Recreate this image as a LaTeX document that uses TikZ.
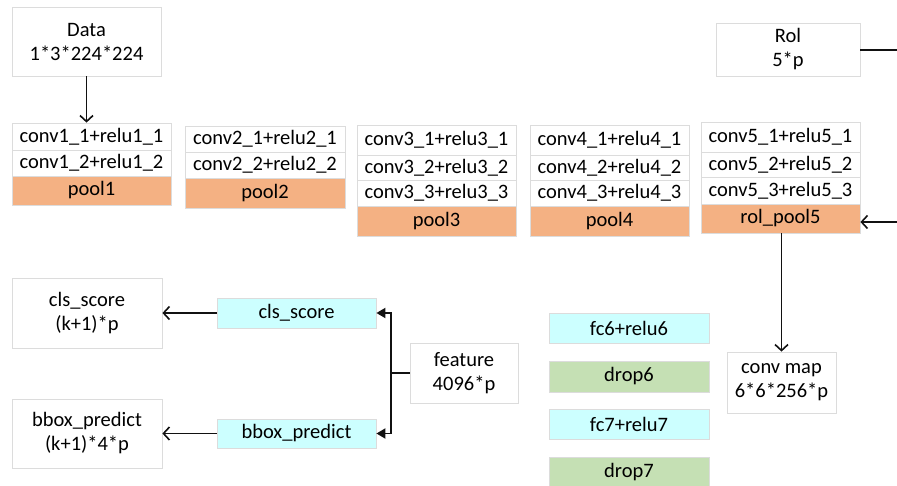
\documentclass[tikz,border=0pt]{standalone}
\usepackage{fontspec}
\setmainfont{Carlito}
\usetikzlibrary{arrows.meta}
\definecolor{edgegray}{HTML}{DCDCDC}
\definecolor{poolfill}{HTML}{F4B183}
\definecolor{fcfill}{HTML}{CCFFFF}
\definecolor{dropfill}{HTML}{C5E0B4}
\definecolor{linedark}{HTML}{111111}
\tikzset{
  box/.style={draw=edgegray, line width=0.8pt, inner sep=0pt, align=center,
    font=\fontsize{20.5}{24}\selectfont},
  sz/.style 2 args={minimum width=#1pt, minimum height=#2pt},
  layer/.style={box, fill=white},
  poolbox/.style={box, fill=poolfill},
  fcbox/.style={box, fill=fcfill},
  dropbox/.style={box, fill=dropfill},
  conn/.style={draw=linedark, line width=1.8pt},
  openarrow/.style={conn, -{Straight Barb[length=6pt,width=13pt,line width=1.6pt]}},
  solidarrow/.style={conn, -{Triangle[length=9pt,width=10pt]}},
}
\begin{document}
\begin{tikzpicture}[x=1pt,y=-1pt]
\useasboundingbox[fill=white] (0,0) rectangle (897,486);

% input blobs
\node[box, sz={149}{69}] (data) at (86.5,41.5) {Data\\1*3*224*224};
\node[box, sz={144}{53}] (roi) at (788,49.5) {Rol\\5*p};

% conv block 1
\node[layer, sz={159}{27}] (c11) at (91.5,136.5) {conv1\_1+relu1\_1};
\node[layer, sz={159}{26}] (c12) at (91.5,163) {conv1\_2+relu1\_2};
\node[poolbox, sz={159}{29}] (p1) at (91.5,190.5) {pool1};

% conv block 2
\node[layer, sz={160}{26}] (c21) at (265,139) {conv2\_1+relu2\_1};
\node[layer, sz={160}{26}] (c22) at (265,165) {conv2\_2+relu2\_2};
\node[poolbox, sz={160}{30}] (p2) at (265,193) {pool2};

% conv block 3
\node[layer, sz={159}{30}] (c31) at (436.5,140) {conv3\_1+relu3\_1};
\node[layer, sz={159}{25}] (c32) at (436.5,167.5) {conv3\_2+relu3\_2};
\node[layer, sz={159}{26}] (c33) at (436.5,193) {conv3\_3+relu3\_3};
\node[poolbox, sz={159}{30}] (p3) at (436.5,221) {pool3};

% conv block 4
\node[layer, sz={159}{30}] (c41) at (609.5,140) {conv4\_1+relu4\_1};
\node[layer, sz={159}{25}] (c42) at (609.5,167.5) {conv4\_2+relu4\_2};
\node[layer, sz={159}{26}] (c43) at (609.5,193) {conv4\_3+relu4\_3};
\node[poolbox, sz={159}{30}] (p4) at (609.5,221) {pool4};

% conv block 5
\node[layer, sz={159}{30}] (c51) at (780.5,137) {conv5\_1+relu5\_1};
\node[layer, sz={159}{25}] (c52) at (780.5,164.5) {conv5\_2+relu5\_2};
\node[layer, sz={159}{27}] (c53) at (780.5,190.5) {conv5\_3+relu5\_3};
\node[poolbox, sz={159}{29}] (p5) at (780.5,218.5) {rol\_pool5};

% pooled map and fully connected stack
\node[box, sz={109}{61}] (cmap) at (781.5,382.5) {conv map\\6*6*256*p};
\node[fcbox, sz={160}{30}] (fc6) at (629,328) {fc6+relu6};
\node[dropbox, sz={160}{31}] (d6) at (629,376.5) {drop6};
\node[fcbox, sz={160}{30}] (fc7) at (629,424) {fc7+relu7};
\node[dropbox, sz={160}{30}] (d7) at (629,472) {drop7};
\node[box, sz={108}{60}] (feat) at (464,373) {feature\\4096*p};

% heads
\node[fcbox, sz={159}{30}] (cls) at (296.5,313) {cls\_score};
\node[fcbox, sz={159}{29}] (bbox) at (296.5,433.5) {bbox\_predict};
\node[box, sz={150}{70}] (clsout) at (87,313) {cls\_score\\(k+1)*p};
\node[box, sz={150}{69}] (bboxout) at (87,433.5) {bbox\_predict\\(k+1)*4*p};

% connectors
\coordinate (roiend) at (897,50);
\coordinate (roiin) at (897,222);
\coordinate (split) at (391,373);

\draw[openarrow] (data.south) -- (data.south |- c11.north);
\draw[conn] (roi.east |- roiend) -- (roiend);
\draw[openarrow] (roiin) -- (p5.east |- roiin);
\draw[openarrow] (p5.south -| cmap.north) -- (cmap.north);

\draw[conn] (feat.west) -- (split);
\draw[solidarrow] (split) |- (cls.east);
\draw[solidarrow] (split) |- (bbox.east);
\draw[openarrow] (cls.west) -- (clsout.east);
\draw[openarrow] (bbox.west) -- (bboxout.east);
\end{tikzpicture}
\end{document}
